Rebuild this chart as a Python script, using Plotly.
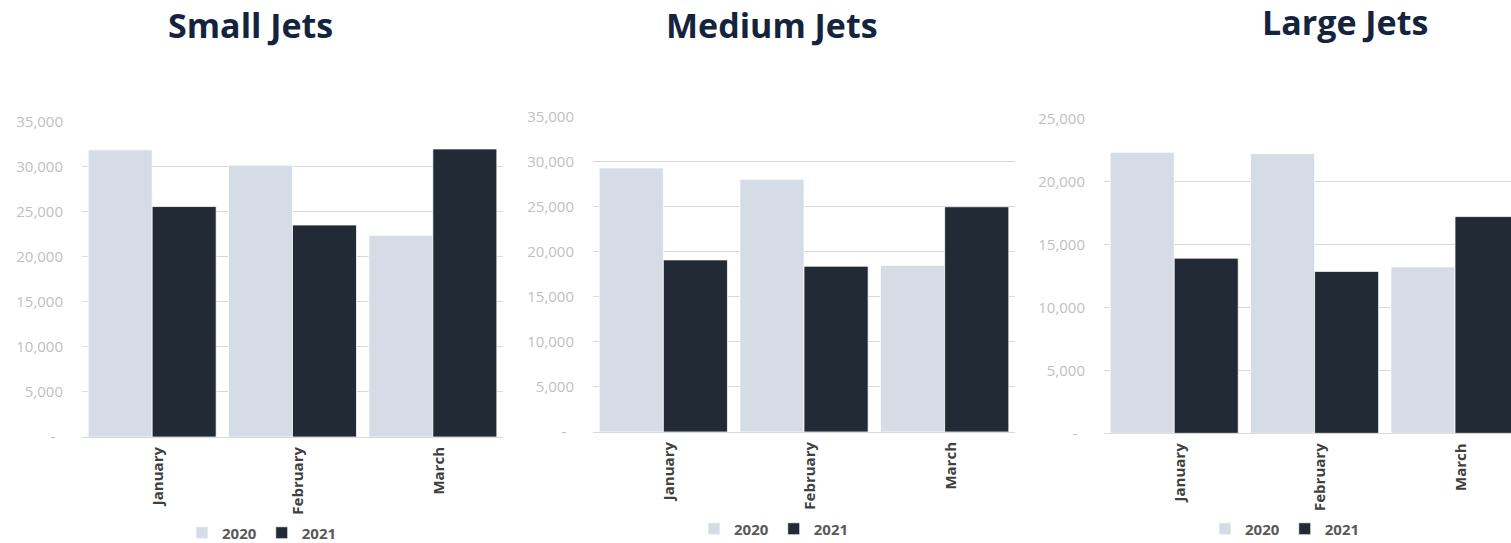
import plotly.graph_objects as go

months = ["January", "February", "March"]
series_names = ["2020", "2021"]

small_2020 = [31900, 30200, 22400]
small_2021 = [25600, 23550, 32000]
medium_2020 = [29300, 28050, 18500]
medium_2021 = [19100, 18400, 25000]
large_2020 = [22300, 22200, 13200]
large_2021 = [13900, 12850, 17200]

titles = ["Small Jets", "Medium Jets", "Large Jets"]

ticks_35k = [0, 5000, 10000, 15000, 20000, 25000, 30000, 35000]
ticks_35k_text = ["-\u00a0\u00a0", "5,000", "10,000", "15,000", "20,000", "25,000", "30,000", "35,000"]
ticks_25k = [0, 5000, 10000, 15000, 20000, 25000]
ticks_25k_text = ["-\u00a0\u00a0", "5,000", "10,000", "15,000", "20,000", "25,000"]

LIGHT = "#d6dce5"
DARK = "#222a35"
TITLE_C = "#15243e"
GRID = "#d9d9d9"
TICK_C = "#bfbfbf"
LBL_C = "#404040"
FONT = "Open Sans"

W, H = 1511, 543

def px(v):
    return v / W

def py(v):
    return (H - v) / H

fig = go.Figure()

panels = [
    (small_2020, small_2021, "x", "y", "legend"),
    (medium_2020, medium_2021, "x2", "y2", "legend2"),
    (large_2020, large_2021, "x3", "y3", "legend3"),
]
for v20, v21, xa, ya, lg in panels:
    for name, vals, col in [(series_names[0], v20, LIGHT), (series_names[1], v21, DARK)]:
        fig.add_trace(go.Bar(
            x=months, y=vals, name=name, xaxis=xa, yaxis=ya, legend=lg,
            marker=dict(color=col, line=dict(color="#ffffff", width=0.75)),
            hoverinfo="x+y+name",
        ))

xcommon = dict(
    type="category", showgrid=False, zeroline=False, showline=False, automargin=False,
    tickangle=-90, ticks="outside", ticklen=3, tickcolor="rgba(0,0,0,0)",
    tickfont=dict(family=FONT, size=15, color=LBL_C, weight="bold"),
    ticklabelshift=6,
)
ycommon = dict(
    showgrid=True, gridcolor=GRID, gridwidth=1, zeroline=True, zerolinecolor=GRID,
    zerolinewidth=1, showline=False, ticks="", ticklabelstandoff=18, automargin=False,
    tickfont=dict(family=FONT, size=15, color=TICK_C),
)

fig.update_layout(
    width=W, height=H, autosize=False,
    margin=dict(l=0, r=0, t=0, b=0, autoexpand=False),
    paper_bgcolor="white", plot_bgcolor="white",
    barmode="group", bargap=0.088, bargroupgap=0,
    xaxis=dict(domain=[px(82), px(503)], anchor="y", range=[-0.5, 2.5], **xcommon),
    xaxis2=dict(domain=[px(593), px(1015)], anchor="y2", range=[-0.5, 2.5], **xcommon),
    xaxis3=dict(domain=[px(1104), 1.0], anchor="y3", range=[-0.5, -0.5 + (W - 1104) / 140.4], **xcommon),
    yaxis=dict(domain=[py(437), py(121.5)], anchor="x", range=[0, 35050],
               tickvals=ticks_35k, ticktext=ticks_35k_text, **ycommon),
    yaxis2=dict(domain=[py(432), py(116.2)], anchor="x2", range=[0, 35050],
                tickvals=ticks_35k, ticktext=ticks_35k_text, **ycommon),
    yaxis3=dict(domain=[py(433.3), py(117.8)], anchor="x3", range=[0, 25040],
                tickvals=ticks_25k, ticktext=ticks_25k_text, **ycommon),
    showlegend=True,
)

legfont = dict(family=FONT, size=15, color="#595959", weight="bold")
for key, cx, cy in [("legend", 262, 533), ("legend2", 774, 529), ("legend3", 1285, 529)]:
    fig.update_layout({key: dict(
        orientation="h", xref="container", yref="container",
        x=px(cx), xanchor="center", y=py(cy), yanchor="middle",
        font=legfont, bgcolor="rgba(0,0,0,0)", itemwidth=30, itemclick=False,
        itemdoubleclick=False,
    )})

for t, cx, cy in [(titles[0], 251, 25), (titles[1], 772, 25), (titles[2], 1345, 22)]:
    fig.add_annotation(
        text=t, xref="paper", yref="paper", x=px(cx), y=py(cy),
        xanchor="center", yanchor="middle", showarrow=False,
        font=dict(family=FONT, size=34, color=TITLE_C, weight="bold"),
    )

fig.write_html(
    "out.html",
    config={"displayModeBar": False},
    post_script="document.body.style.margin='0';document.body.style.overflow='hidden';",
)
